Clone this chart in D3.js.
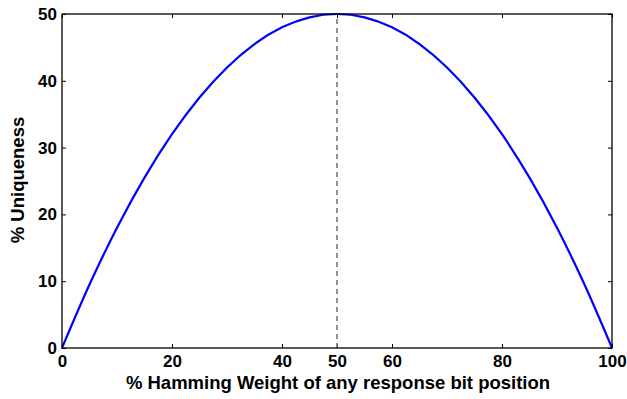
<!DOCTYPE html>
<html>
<head>
<meta charset="utf-8">
<script src="https://cdn.jsdelivr.net/npm/d3@7"></script>
<style>
  body { margin: 0; background: #fff; }
  svg text { font-family: "Liberation Sans", Arial, sans-serif; font-weight: bold; fill: #000; }
</style>
</head>
<body>
<div id="chart"></div>
<script>
// values
var weightPct = [0, 5, 10, 15, 20, 25, 30, 35, 40, 45, 50, 55, 60, 65, 70, 75, 80, 85, 90, 95, 100];
var uniquenessPct = [0, 9.5, 18, 25.5, 32, 37.5, 42, 45.5, 48, 49.5, 50, 49.5, 48, 45.5, 42, 37.5, 32, 25.5, 18, 9.5, 0];
var xTicks = [0, 20, 40, 50, 60, 80, 100];
var yTicks = [0, 10, 20, 30, 40, 50];
var markerX = 50;

var width = 627, height = 399;
var margin = {top: 14, right: 15, bottom: 51, left: 62};
var w = width - margin.left - margin.right;
var h = height - margin.top - margin.bottom;

var svg = d3.select("#chart").append("svg")
  .attr("width", width).attr("height", height);
var g = svg.append("g").attr("transform", "translate(" + margin.left + "," + margin.top + ")");

var x = d3.scaleLinear().domain([0, 100]).range([0, w]);
var y = d3.scaleLinear().domain([0, 50]).range([h, 0]);

// inward ticks on all four sides (matplotlib look)
function styleAxis(sel) {
  sel.select(".domain").remove();
  sel.selectAll(".tick line").attr("stroke", "#000").attr("stroke-width", 1);
  sel.selectAll(".tick text").style("font-size", "17px");
}
g.append("g").attr("transform", "translate(0," + h + ")")
  .call(d3.axisBottom(x).tickValues(xTicks).tickSizeInner(-4).tickPadding(7))
  .call(styleAxis);
g.append("g")
  .call(d3.axisTop(x).tickValues(xTicks).tickSizeInner(-4).tickFormat(""))
  .call(styleAxis);
g.append("g")
  .call(d3.axisLeft(y).tickValues(yTicks).tickSizeInner(-4).tickPadding(5))
  .call(styleAxis);
g.append("g").attr("transform", "translate(" + w + ",0)")
  .call(d3.axisRight(y).tickValues(yTicks).tickSizeInner(-4).tickFormat(""))
  .call(styleAxis);

// dashed marker at 50
g.append("line")
  .attr("x1", x(markerX)).attr("x2", x(markerX))
  .attr("y1", y(0)).attr("y2", y(50))
  .attr("stroke", "#6e6e6e").attr("stroke-width", 1.5)
  .attr("stroke-dasharray", "5,4");

var line = d3.line()
  .x(function (d, i) { return x(weightPct[i]); })
  .y(function (d) { return y(d); })
  .curve(d3.curveMonotoneX);

g.append("path")
  .datum(uniquenessPct)
  .attr("d", line)
  .attr("fill", "none")
  .attr("stroke", "#0000ff")
  .attr("stroke-width", 2.2);

// frame
g.append("rect")
  .attr("width", w).attr("height", h)
  .attr("fill", "none").attr("stroke", "#000").attr("stroke-width", 1.3);

svg.append("text")
  .attr("x", margin.left + w / 2 + 1).attr("y", 389)
  .attr("text-anchor", "middle")
  .style("font-size", "18.5px")
  .text("% Hamming Weight of any response bit position");

svg.append("text")
  .attr("transform", "translate(24," + (margin.top + 166) + ") rotate(-90)")
  .attr("text-anchor", "middle")
  .style("font-size", "18.5px")
  .text("% Uniqueness");
</script>
</body>
</html>
